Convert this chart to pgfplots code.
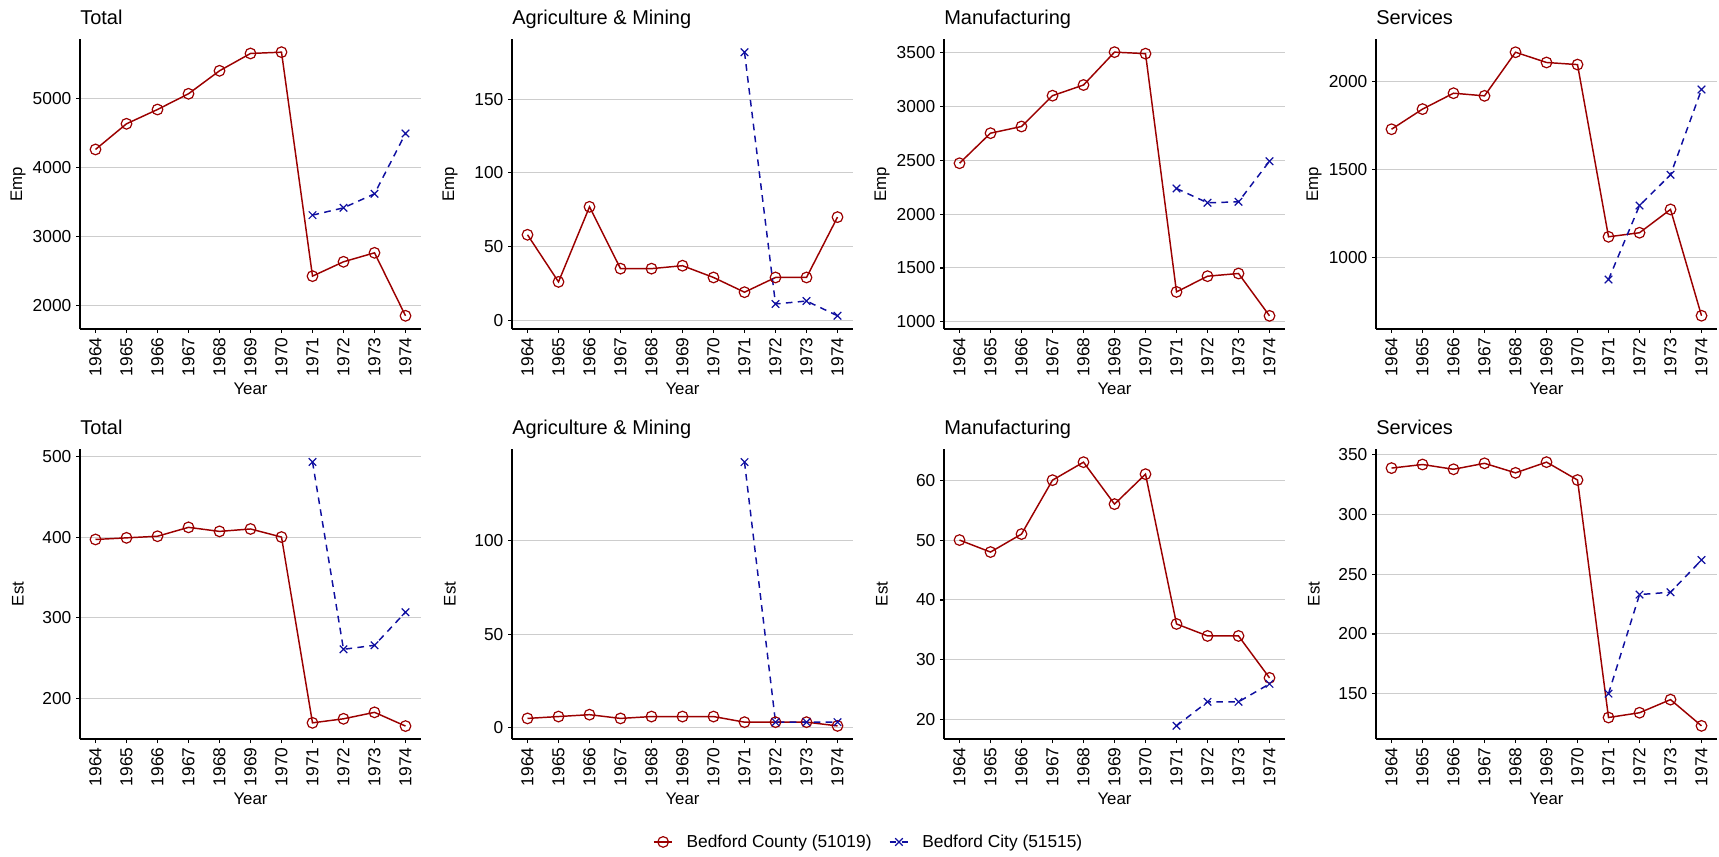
\documentclass[border=0pt]{standalone}
\usepackage{fontspec}
\setmainfont{Liberation Sans}
\usepackage{pgfplots}
\pgfplotsset{compat=1.18}
\definecolor{cty}{RGB}{155,0,0}
\definecolor{cit}{RGB}{15,15,160}
\definecolor{gridc}{RGB}{205,205,205}
\newcommand{\tickfont}{\fontsize{13pt}{15pt}\selectfont}
\newcommand{\labfont}{\fontsize{12.6pt}{15pt}\selectfont}
\newcommand{\titfont}{\fontsize{15pt}{17pt}\selectfont}
\pgfplotsset{
  panel/.style={
    scale only axis, width=255.75pt, height=217.5pt,
    anchor=south west,
    axis x line*=bottom, axis y line*=left,
    axis line style={-, line width=0.8pt, black},
    xmin=1963.5, xmax=1974.5,
    xtick={1964,1965,1966,1967,1968,1969,1970,1971,1972,1973,1974},
    xticklabels={1964,1965,1966,1967,1968,1969,1970,1971,1972,1973,1974},
    xticklabel style={rotate=90, anchor=east, font=\tickfont},
    yticklabel style={font=\tickfont, /pgf/number format/1000 sep={}, /pgf/number format/assume math mode=true},
    ymajorgrids, grid style={color=gridc, line width=0.75pt},
    tick style={black, line width=0.8pt},
    tick align=outside, major tick length=3pt,
    xlabel={Year},
    xlabel style={at={(axis description cs:0.5,-0.2069)}, anchor=center, font=\labfont},
    ylabel style={at={(axis description cs:-0.1818,0.5)}, anchor=center, font=\labfont},
    title style={at={(axis description cs:0,1)}, anchor=base west, yshift=4.5pt, font=\titfont, inner sep=0pt},
    clip=false,
  },
  county/.style={color=cty, line width=1.1pt, mark=o, mark size=4pt, mark options={solid, line width=0.9pt}},
  city/.style={color=cit, line width=1.1pt, dash pattern=on 5pt off 4pt, mark=x, mark size=4pt, mark options={solid, line width=0.9pt}},
}
\begin{document}
\begin{tikzpicture}
\path[use as bounding box] (0,0) rectangle (1289.25pt,642pt);

% Row 1
\begin{axis}[panel, at={(60pt,395.25pt)}, title={Total}, ylabel={Emp},
  ymin=1659, ymax=5862, ytick={2000,3000,4000,5000}]
\addplot[county] coordinates {(1964,4261) (1965,4633) (1966,4840) (1967,5068) (1968,5401) (1969,5652) (1970,5671) (1971,2425) (1972,2633) (1973,2763) (1974,1850)};
\addplot[city] coordinates {(1971,3309) (1972,3415) (1973,3618) (1974,4493)};
\end{axis}

\begin{axis}[panel, at={(384pt,395.25pt)}, title={Agriculture \& Mining}, ylabel={Emp},
  ymin=-6, ymax=191, ytick={0,50,100,150}]
\addplot[county] coordinates {(1964,58) (1965,26) (1966,77) (1967,35) (1968,35) (1969,37) (1970,29) (1971,19) (1972,29) (1973,29) (1974,70)};
\addplot[city] coordinates {(1971,182) (1972,11) (1973,13) (1974,3)};
\end{axis}

\begin{axis}[panel, at={(708pt,395.25pt)}, title={Manufacturing}, ylabel={Emp},
  ymin=934, ymax=3625, ytick={1000,1500,2000,2500,3000,3500}]
\addplot[county] coordinates {(1964,2472) (1965,2751) (1966,2813) (1967,3099) (1968,3198) (1969,3503) (1970,3489) (1971,1278) (1972,1424) (1973,1449) (1974,1056)};
\addplot[city] coordinates {(1971,2238) (1972,2105) (1973,2114) (1974,2491)};
\end{axis}

\begin{axis}[panel, at={(1032pt,395.25pt)}, title={Services}, ylabel={Emp},
  ymin=597, ymax=2239, ytick={1000,1500,2000}]
\addplot[county] coordinates {(1964,1728) (1965,1842) (1966,1932) (1967,1917) (1968,2164) (1969,2106) (1970,2094) (1971,1119) (1972,1142) (1973,1274) (1974,672)};
\addplot[city] coordinates {(1971,877) (1972,1296) (1973,1470) (1974,1953)};
\end{axis}

% Row 2
\begin{axis}[panel, at={(60pt,87.75pt)}, title={Total}, ylabel={Est},
  ymin=150, ymax=509, ytick={200,300,400,500}]
\addplot[county] coordinates {(1964,397) (1965,399) (1966,401) (1967,412) (1968,407) (1969,410) (1970,400) (1971,170) (1972,175) (1973,183) (1974,166)};
\addplot[city] coordinates {(1971,493) (1972,261) (1973,266) (1974,307)};
\end{axis}

\begin{axis}[panel, at={(384pt,87.75pt)}, title={Agriculture \& Mining}, ylabel={Est},
  ymin=-6, ymax=149, ytick={0,50,100},
  legend columns=2,
  legend style={at={(axis description cs:1.047,-0.355)}, anchor=center, draw=none, fill=none,
    font=\fontsize{13pt}{15pt}\selectfont,
    /tikz/every odd column/.append style={column sep=8pt},
    /tikz/every even column/.append style={column sep=11pt}},
  legend image code/.code={\draw[mark repeat=2, mark phase=2, #1] plot coordinates {(0pt,0pt) (7pt,0pt) (14pt,0pt)};}]
\addplot[county] coordinates {(1964,5) (1965,6) (1966,7) (1967,5) (1968,6) (1969,6) (1970,6) (1971,3) (1972,3) (1973,3) (1974,1)};
\addlegendentry{Bedford County (51019)}
\addplot[city] coordinates {(1971,142) (1972,3) (1973,3) (1974,3)};
\addlegendentry{Bedford City (51515)}
\end{axis}

\begin{axis}[panel, at={(708pt,87.75pt)}, title={Manufacturing}, ylabel={Est},
  ymin=16.8, ymax=65.2, ytick={20,30,40,50,60}]
\addplot[county] coordinates {(1964,50) (1965,48) (1966,51) (1967,60) (1968,63) (1969,56) (1970,61) (1971,36) (1972,34) (1973,34) (1974,27)};
\addplot[city] coordinates {(1971,19) (1972,23) (1973,23) (1974,26)};
\end{axis}

\begin{axis}[panel, at={(1032pt,87.75pt)}, title={Services}, ylabel={Est},
  ymin=112, ymax=355, ytick={150,200,250,300,350}]
\addplot[county] coordinates {(1964,339) (1965,342) (1966,338) (1967,343) (1968,335) (1969,344) (1970,329) (1971,130) (1972,134) (1973,145) (1974,123)};
\addplot[city] coordinates {(1971,150) (1972,233) (1973,235) (1974,262)};
\end{axis}
\end{tikzpicture}
\end{document}
